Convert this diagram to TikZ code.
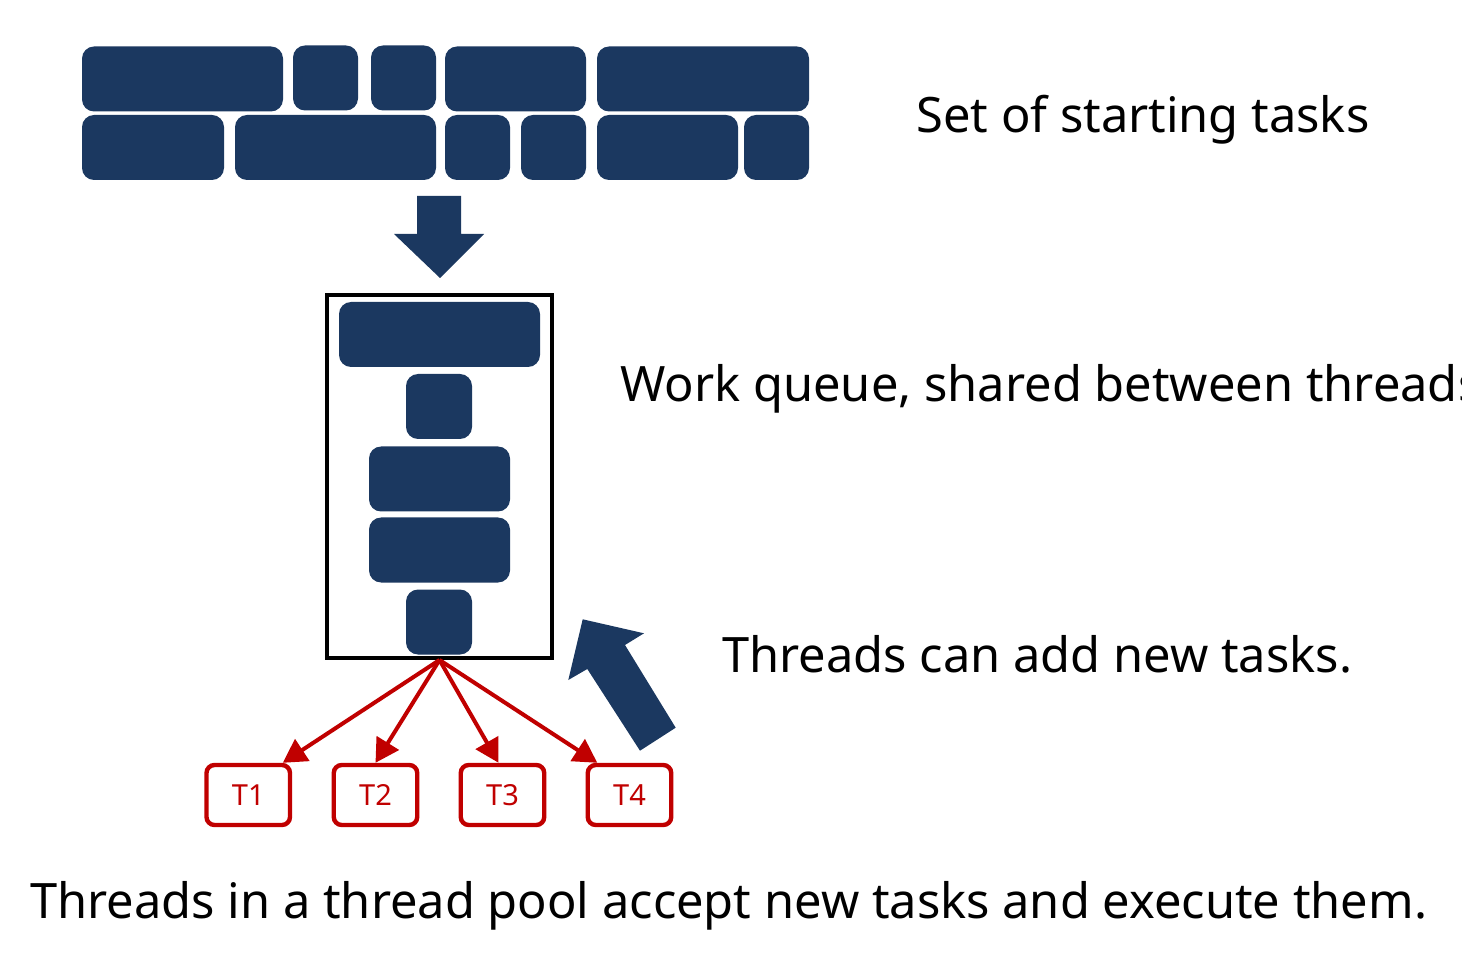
\documentclass[tikz,border=0pt]{standalone}
\usepackage{fontspec}
\setmainfont{Noto Sans}
\usepackage{xcolor}
\usetikzlibrary{arrows.meta}
\definecolor{tasknavy}{RGB}{27,56,96}
\definecolor{threadred}{RGB}{192,0,0}

\begin{document}
\begin{tikzpicture}[x=0.5pt, y=-0.5pt,
	taskblock/.style={fill=tasknavy, rounded corners=6pt, inner sep=0pt, minimum height=32.5pt},
	threadbox/.style={draw=threadred, line width=2.2pt, rounded corners=4pt, inner sep=0pt,
		minimum width=41.75pt, minimum height=30pt, text=threadred, font=\fontsize{14.5}{16}\selectfont},
	threadarrow/.style={threadred, line width=2pt, -{Triangle[length=11.7pt, width=12.8pt]}},
	caption/.style={anchor=base west, inner sep=0pt, font=\fontsize{24.4}{28}\selectfont}]
	\useasboundingbox (0,0) rectangle (1462,962);
	% set of starting tasks
	\node[taskblock, minimum width=100.5pt] (s1) at (182.5, 79) {};
	\node[taskblock, minimum width=32.5pt]  (s2) at (325.5, 78) {};
	\node[taskblock, minimum width=32.5pt]  (s3) at (403.5, 78) {};
	\node[taskblock, minimum width=70.5pt]  (s4) at (515.5, 79) {};
	\node[taskblock, minimum width=106pt]   (s5) at (703, 79) {};
	\node[taskblock, minimum width=71pt]    (s6) at (153, 147.5) {};
	\node[taskblock, minimum width=100.5pt] (s7) at (335.5, 147.5) {};
	\node[taskblock, minimum width=32.5pt]  (s8) at (477.5, 147.5) {};
	\node[taskblock, minimum width=32.5pt]  (s9) at (553.5, 147.5) {};
	\node[taskblock, minimum width=70.5pt]  (s10) at (667.5, 147.5) {};
	\node[taskblock, minimum width=32.5pt]  (s11) at (776.5, 147.5) {};
	\fill[tasknavy] (417,196) -- (461,196) -- (461,234) -- (484,234) -- (440,278) -- (394,234) -- (417,234) -- cycle;
	% work queue
	\node[draw, line width=2pt, inner sep=0pt, minimum width=112.5pt, minimum height=181.5pt] (queue) at (439.5, 476.5) {};
	\node[taskblock, minimum width=100.5pt] (q1) at (439.5, 334.5) {};
	\node[taskblock, minimum width=33pt]    (q2) at (439, 406.5) {};
	\node[taskblock, minimum width=70.5pt]  (q3) at (439.5, 479) {};
	\node[taskblock, minimum width=70.5pt]  (q4) at (439.5, 550) {};
	\node[taskblock, minimum width=33pt]    (q5) at (439, 622) {};
	% threads
	\node[threadbox] (t1) at (248.25, 795) {T1};
	\node[threadbox] (t2) at (375.5, 795) {T2};
	\node[threadbox] (t3) at (502.5, 795) {T3};
	\node[threadbox] (t4) at (629.5, 795) {T4};
	\draw[threadarrow] (queue.south) -- (t1.43);
	\draw[threadarrow] (queue.south) -- (t2.north);
	\draw[threadarrow] (queue.south) -- (t3.97);
	\draw[threadarrow] (queue.south) -- (t4.135);
	\fill[tasknavy] (582.7,619.3) -- (644,633.3) -- (625,645) -- (675.7,727.7) -- (640,750.7) -- (587.3,669) -- (568.3,680) -- cycle;
	% captions
	\node[caption] (startcap) at (916, 133) {Set of starting tasks};
	\node[caption] (queuecap) at (620, 402) {Work queue, shared between threads};
	\node[caption] (addcap) at (722, 672) {Threads can add new tasks.};
	\node[caption] (poolcap) at (30, 918) {Threads in a thread pool accept new tasks and execute them.};
\end{tikzpicture}
\end{document}
